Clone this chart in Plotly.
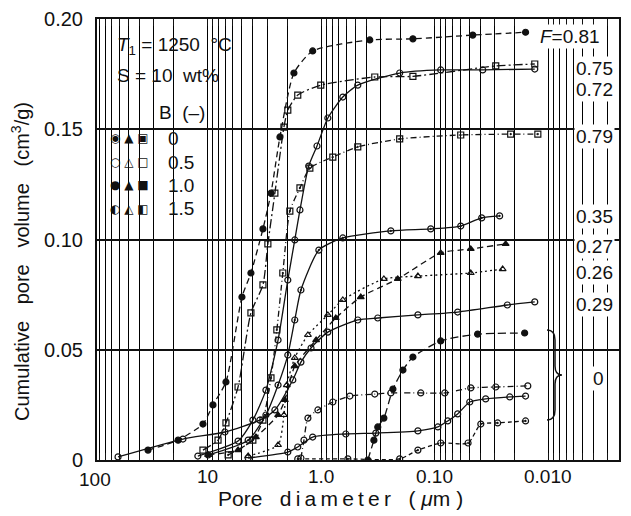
import math
import plotly.graph_objects as go

# ---------------- data (pore diameter in um, cumulative pore volume in cm3/g) ----------------
d_081 = [33.5, 18.2, 11.0, 8.98, 6.9, 4.99, 4.16, 3.26, 2.77, 2.31, 1.74, 1.19, 0.374, 0.156, 0.0464, 0.0159]
v_081 = [0.0045, 0.009, 0.0163, 0.025, 0.0354, 0.0739, 0.0848, 0.1048, 0.121, 0.1465, 0.1755, 0.1855, 0.1905, 0.191, 0.1927, 0.194]

d_075 = [11.0, 8.1, 6.9, 5.4, 4.16, 3.26, 2.95, 2.56, 2.13, 1.97, 1.61, 1.01, 0.338, 0.156, 0.0291, 0.0132]
v_075 = [0.0045, 0.009, 0.0168, 0.0331, 0.0667, 0.0794, 0.098, 0.121, 0.151, 0.1587, 0.1655, 0.170, 0.1737, 0.174, 0.1787, 0.1796]

d_072 = [12.2, 5.4, 4.0, 3.07, 2.4, 1.97, 1.71, 1.54, 1.29, 1.09, 0.875, 0.646, 0.477, 0.204, 0.0888, 0.0379, 0.0132]
v_072 = [0.0018, 0.0086, 0.0181, 0.0317, 0.0544, 0.0816, 0.0998, 0.1134, 0.1333, 0.1424, 0.1551, 0.1646, 0.170, 0.1755, 0.1769, 0.1769, 0.1773]

d_079 = [6.6, 4.0, 3.26, 2.77, 2.46, 2.18, 1.89, 1.54, 1.26, 0.791, 0.477, 0.204, 0.0592, 0.0215, 0.0124]
v_079 = [0.0023, 0.009, 0.0181, 0.0372, 0.059, 0.0848, 0.1129, 0.1234, 0.1324, 0.1374, 0.142, 0.1456, 0.1474, 0.1478, 0.1478]

d_035 = [9.9, 4.4, 3.07, 2.4, 1.97, 1.71, 1.51, 1.05, 0.646, 0.244, 0.1087, 0.0592, 0.0387, 0.0269]
v_035 = [0.0023, 0.009, 0.0204, 0.034, 0.0476, 0.0635, 0.0771, 0.0952, 0.1007, 0.1039, 0.1048, 0.1061, 0.1098, 0.1107]

d_027 = [9.9, 5.4, 3.76, 2.4, 2.09, 1.71, 1.11, 0.745, 0.449, 0.212, 0.0888, 0.0483, 0.0238]
v_027 = [0.0023, 0.0045, 0.0104, 0.0204, 0.0272, 0.0426, 0.0544, 0.0644, 0.0739, 0.0821, 0.0939, 0.0957, 0.098]

d_026 = [4.4, 2.4, 2.13, 2.01, 1.71, 1.31, 0.875, 0.646, 0.281, 0.141, 0.0483, 0.0253]
v_026 = [0.0018, 0.0068, 0.0204, 0.034, 0.0463, 0.0567, 0.0658, 0.0726, 0.0821, 0.0834, 0.0848, 0.0866]

d_029 = [61.5, 16.5, 7.05, 3.47, 2.56, 1.78, 1.51, 1.23, 0.875, 0.477, 0.318, 0.141, 0.063, 0.023, 0.0132]
v_029 = [0.0014, 0.0095, 0.0127, 0.0181, 0.0227, 0.0363, 0.0444, 0.0508, 0.058, 0.0635, 0.0644, 0.0658, 0.0671, 0.0703, 0.0717]

d_0a = [0.389, 0.344, 0.318, 0.281, 0.234, 0.191, 0.156, 0.0888, 0.042, 0.0162]
v_0a = [0.0, 0.009, 0.015, 0.019, 0.0322, 0.0408, 0.0467, 0.054, 0.0571, 0.0576]

d_0b = [1.51, 1.42, 1.31, 1.07, 0.791, 0.56, 0.338, 0.244, 0.133, 0.0818, 0.0483, 0.0291, 0.0152]
v_0b = [0.0009, 0.009, 0.019, 0.0227, 0.0263, 0.029, 0.0299, 0.0304, 0.0304, 0.0304, 0.0327, 0.0331, 0.0336]

d_0c = [4.4, 1.97, 1.61, 1.19, 0.608, 0.331, 0.141, 0.094, 0.077, 0.063, 0.0493, 0.0357, 0.0219, 0.0159]
v_0c = [0.0009, 0.0036, 0.0059, 0.0104, 0.0118, 0.0122, 0.0132, 0.015, 0.0177, 0.0209, 0.0263, 0.0277, 0.0286, 0.029]

d_0d = [1.61, 0.583, 0.204, 0.141, 0.0888, 0.051, 0.0394, 0.028, 0.0159]
v_0d = [0.0005, 0.0005, 0.0005, 0.0045, 0.0077, 0.0077, 0.0163, 0.0168, 0.0177]

f_labels = ["0.75", "0.72", "0.79", "0.35", "0.27", "0.26", "0.29"]
x_tick_vals = [10, 1, 0.1, 0.01]
x_tick_text = ["10", "1.0", "0.10", "0.010"]
y_tick_vals = [0, 0.05, 0.10, 0.15, 0.20]
y_tick_text = ["0", "0.05", "0.10", "0.15", "0.20"]

# ---------------- figure ----------------
INK = "#111111"
fig = go.Figure()

series = [
    (d_081, v_081, "circle", "6px,4px"),
    (d_075, v_075, "square-open", "9px,3px,2px,3px"),
    (d_072, v_072, "circle-open", "solid"),
    (d_079, v_079, "square-open-dot", "6px,3px,1px,3px"),
    (d_035, v_035, "circle-open-dot", "solid"),
    (d_027, v_027, "triangle-up", "6px,4px"),
    (d_026, v_026, "triangle-up-open", "2px,3px"),
    (d_029, v_029, "circle-open", "solid"),
    (d_0a, v_0a, "circle", "8px,4px"),
    (d_0b, v_0b, "circle-open", "6px,3px,1px,3px"),
    (d_0c, v_0c, "circle-open", "solid"),
    (d_0d, v_0d, "circle-open-dot", "4px,3px"),
]
for xs, ys, sym, dash in series:
    fig.add_trace(go.Scatter(
        x=xs, y=ys, mode="lines+markers",
        line=dict(color=INK, width=1.3, dash=dash, shape="spline", smoothing=0.6),
        marker=dict(symbol=sym, size=6, color=INK, line=dict(color=INK, width=1.2)),
        showlegend=False, hoverinfo="skip"))

# log grid values (1..9 x decade)
grid_vals = []
for k in range(2, -4, -1):
    for m in range(9, 0, -1):
        val = m * 10 ** k
        if 0.0023 <= val <= 100:
            grid_vals.append(val)

L = 1.974
R = -2.621
fig.update_xaxes(
    type="log", range=[L, R], automargin=False,
    tickmode="array", tickvals=grid_vals, showticklabels=False,
    ticks="inside", ticklen=7, tickwidth=1, tickcolor=INK,
    showgrid=True, gridcolor="#000000", gridwidth=1.2,
    showline=True, linecolor=INK, linewidth=2, mirror="ticks",
    zeroline=False,
)
fig.update_yaxes(
    range=[0, 0.2], automargin=False, tickmode="array", tickvals=y_tick_vals, ticktext=y_tick_text,
    ticks="", showgrid=True, gridcolor=INK, gridwidth=1.5,
    showline=True, linecolor=INK, linewidth=2, mirror=True, zeroline=False,
    ticklabelstandoff=8,
    tickfont=dict(family="Liberation Sans", size=20, color=INK),
)

W, H = 631, 516
ML, MR, MT, MB = 97, 12, 19, 56
PW, PH = W - ML - MR, H - MT - MB

def px(xp):
    return (xp - ML) / PW

def py(yp):
    return (H - MB - yp) / PH

ann = []
font_main = dict(family="Liberation Sans", size=19, color=INK)

def note(text, x, y, xanchor="center", font=None, **kw):
    d = dict(text=text, x=x, y=y, xref="paper", yref="paper", xanchor=xanchor,
             yanchor="middle", showarrow=False, font=font or font_main)
    d.update(kw)
    ann.append(d)

# x tick labels at decade positions
for tv, tt in zip(x_tick_vals, x_tick_text):
    ann.append(dict(text=tt, x=math.log10(tv), y=py(477), xref="x", yref="paper",
                    xanchor="center", yanchor="middle", showarrow=False,
                    font=dict(family="Liberation Sans", size=19, color=INK)))
note("100", px(95), py(480))

# axis titles
sp = "\u00a0\u00a0\u00a0"
ts = "\u2009"
note(f"Cumulative{sp}pore{sp}volume{sp}(cm<sup>3</sup>/g)", px(20), py(262),
     textangle=-90, font=dict(family="Liberation Sans", size=20, color=INK))
note(f"Pore{sp}{ts.join('diameter')}{sp}(\u00a0<i>\u03bc</i>m\u00a0)", px(340), py(498),
     font=dict(family="Liberation Sans", size=21, color=INK))

# condition box text
note("<i>T</i><sub>1</sub> = 1250  °C", px(115), py(46), xanchor="left")
note("S = 10  wt%", px(115), py(75), xanchor="left")
note("B  (\u2013)", px(157), py(112), xanchor="left")
rows = [("\u25c9 \u25b2 \u25a3", "0"), ("\u25cb \u25b3 \u25a1", "0.5"),
        ("\u25cf \u25b2 \u25a0", "1.0"), ("\u25d0 \u25ed \u25e7", "1.5")]
row_y = [138, 162, 185, 209]
for (sym, val), yy in zip(rows, row_y):
    note(sym, px(108), py(yy), xanchor="left",
         font=dict(family="DejaVu Sans", size=12, color=INK))
    note(val, px(166), py(yy), xanchor="left")

# F labels
note("<i>F</i>=0.81", px(570), py(36), bgcolor="white")
label_y = [68, 89, 136, 216, 246, 272, 304]
for lab, yy in zip(f_labels, label_y):
    note(lab, px(594), py(yy), bgcolor="white")
note("0", px(598), py(378), bgcolor="white")

shapes = [
    dict(type="rect", xref="paper", yref="paper", x0=px(99), x1=px(214), y0=py(224), y1=py(22),
         fillcolor="white", line=dict(width=0), layer="between"),
    dict(type="rect", xref="paper", yref="paper", x0=px(545), x1=px(562), y0=py(425), y1=py(325),
         fillcolor="white", line=dict(width=0), layer="between"),
    dict(type="path", xref="paper", yref="paper",
         path=(f"M {px(547)},{py(330)} Q {px(555)},{py(330)} {px(555)},{py(340)} "
               f"L {px(555)},{py(366)} Q {px(555)},{py(375)} {px(562)},{py(375)} "
               f"Q {px(555)},{py(375)} {px(555)},{py(384)} L {px(555)},{py(410)} "
               f"Q {px(555)},{py(420)} {px(547)},{py(420)}"),
         line=dict(color=INK, width=1.5)),
]

fig.update_layout(
    width=W, height=H, margin=dict(l=ML, r=MR, t=MT, b=MB),
    paper_bgcolor="white", plot_bgcolor="white",
    annotations=ann, shapes=shapes, showlegend=False,
)
fig.write_html("out.html", config={"displayModeBar": False},
               post_script="document.body.style.margin='0px';")
